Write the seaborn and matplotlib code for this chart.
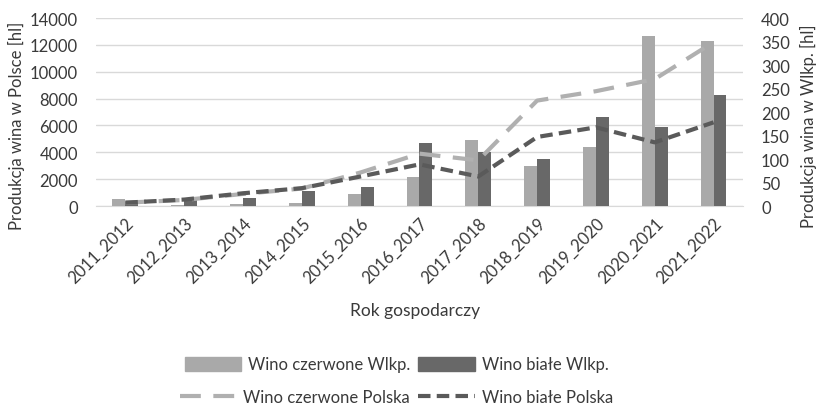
import pandas as pd
import numpy as np
import matplotlib
matplotlib.use("Agg")
import matplotlib.pyplot as plt
from matplotlib.patches import Patch
import seaborn as sns

# Data
years = ["2011_2012", "2012_2013", "2013_2014", "2014_2015", "2015_2016",
         "2016_2017", "2017_2018", "2018_2019", "2019_2020", "2020_2021",
         "2021_2022"]
red_wlkp = [15, 3, 5, 6, 25, 62, 141, 85, 126, 362, 352]
white_wlkp = [8, 12, 18, 31, 40, 134, 114, 100, 189, 169, 237]
red_polska = [250, 450, 900, 1300, 2500, 3900, 3400, 7850, 8550, 9450, 12200]
white_polska = [250, 480, 950, 1330, 2200, 3100, 2200, 5140, 5860, 4740, 6230]

series_bar = ["Wino czerwone Wlkp.", "Wino białe Wlkp."]
series_line = ["Wino czerwone Polska", "Wino białe Polska"]
bar_colors = ["#a9a9a9", "#686868"]

bars = pd.DataFrame({
    "rok": years * 2,
    "wartosc": red_wlkp + white_wlkp,
    "seria": [series_bar[0]] * len(years) + [series_bar[1]] * len(years),
})

sns.set_style("white")
plt.rcParams['font.family'] = ['Lato', 'DejaVu Sans']
plt.rcParams['font.size'] = 11
text_col = "#3a3a3a"

fig = plt.figure(figsize=(8.16, 4.06), dpi=100)
ax = fig.add_axes([0.1176, 0.4901, 0.7929, 0.4631])
ax2 = ax.twinx()
ax3 = ax.twinx()

# bars (right axis, Wielkopolska)
sns.barplot(data=bars, x="rok", y="wartosc", hue="seria", ax=ax2,
            palette=bar_colors, width=0.44, saturation=1, linewidth=0)
ax2.set_ylim(0, 400)
ax2.set_yticks(np.arange(0, 401, 50))
ax2.set_ylabel("Produkcja wina w Wlkp. [hl]", color=text_col, fontsize=12)
ax2.yaxis.set_label_coords(1.088, 0.43)
ax2.tick_params(axis="y", length=0, pad=13, labelcolor=text_col, labelsize=12)
ax2.legend_.remove()

# lines (left axis, Polska)
sns.lineplot(x=years, y=red_polska, ax=ax3, color="#b0b0b0", linewidth=3,
             label=series_line[0])
sns.lineplot(x=years, y=white_polska, ax=ax3, color="#5a5a5a", linewidth=3,
             label=series_line[1])
l1, l2 = ax3.get_lines()[:2]
l1.set_dashes((5, 3))
l2.set_dashes((3, 1.5))
ax3.set_ylim(0, 14000)
ax3.axis("off")
ax3.legend_.remove()

ax.set_ylim(0, 14000)
ax.set_yticks(np.arange(0, 14001, 2000))
ax.grid(axis="y", color="#d9d9d9", linewidth=1)
ax.set_xlim(-0.5, len(years) - 0.5)
ax.set_xticks(range(len(years)))
ax.set_xticklabels(years, rotation=45, ha="right", rotation_mode="anchor")
ax.tick_params(axis="both", length=0, labelcolor=text_col, labelsize=12)
ax.tick_params(axis="y", pad=13)
ax.tick_params(axis="x", pad=6)
ax.set_ylabel("Produkcja wina w Polsce [hl]", color=text_col, fontsize=12)
ax.yaxis.set_label_coords(-0.11, 0.43)
ax.set_xlabel("Rok gospodarczy", color=text_col, fontsize=12.5)
ax.xaxis.set_label_coords(0.493, -0.51)

for a in (ax, ax2):
    for side in ("top", "left", "right"):
        a.spines[side].set_visible(False)
    a.spines["bottom"].set_color("#d9d9d9")
ax2.spines["bottom"].set_visible(False)

handles_bar = [Patch(color=c) for c in bar_colors]
fig.legend(handles_bar, series_bar, loc="center", bbox_to_anchor=(0.486, 0.1),
           ncol=2, frameon=False, handlelength=3.4, handleheight=0.9,
           columnspacing=0.5, handletextpad=0.4, labelcolor=text_col, fontsize=12)
fig.legend([l1, l2], series_line, loc="center", bbox_to_anchor=(0.486, 0.02),
           ncol=2, frameon=False, handlelength=3.4,
           columnspacing=0.5, handletextpad=0.4, labelcolor=text_col, fontsize=12)

fig.savefig("out.png", dpi=100)
